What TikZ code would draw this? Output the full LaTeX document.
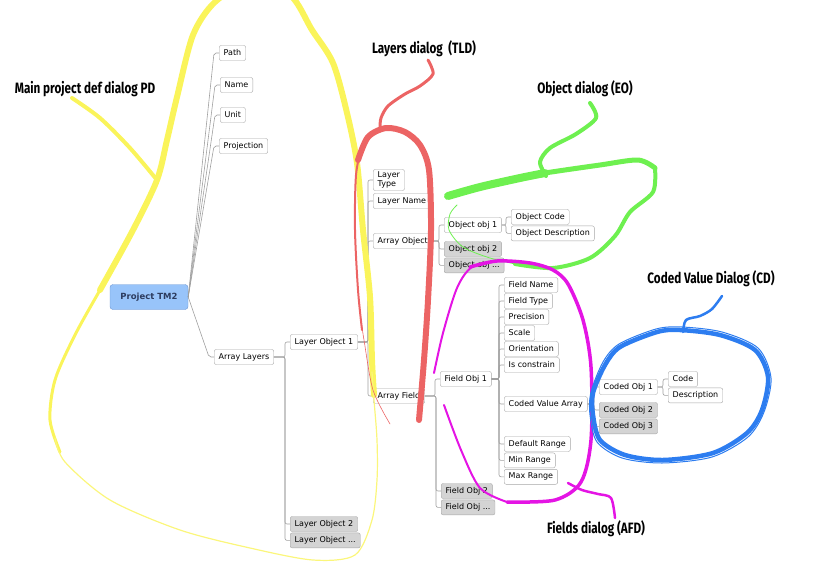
\documentclass[tikz,border=0pt]{standalone}
\usepackage{fontspec}
\setmainfont{DejaVu Sans}
\newfontfamily\handfont[FakeStretch=0.78]{Fira Sans}
\usetikzlibrary{positioning}
\definecolor{hlyellow}{RGB}{250,244,90}
\definecolor{hlred}{RGB}{236,100,100}
\definecolor{hlgreen}{RGB}{110,240,80}
\definecolor{hlmagenta}{RGB}{228,20,228}
\definecolor{hlblue}{RGB}{45,125,240}
\definecolor{foldgray}{RGB}{212,212,212}
\definecolor{tmfill}{RGB}{152,196,250}
\definecolor{tmborder}{RGB}{110,150,210}
\definecolor{tmtext}{RGB}{45,60,95}

\begin{document}
\begin{tikzpicture}[x=1pt, y=-1pt,
		topic/.style={rectangle, rounded corners=2pt, draw=gray!70, fill=white, font=\fontsize{8}{9.5}\selectfont, inner xsep=4.5pt, inner ysep=0pt, text height=6pt, text depth=2pt, minimum height=15pt},
		folded/.style={topic, fill=foldgray},
		central/.style={rectangle, rounded corners=3pt, draw=tmborder, fill=tmfill, text=tmtext, font=\fontsize{8.5}{10}\selectfont\bfseries, minimum width=78pt, minimum height=25pt},
		branch/.style={draw=gray!75, line width=0.6pt, rounded corners=2pt},
		remark/.style={font=\handfont\bfseries\fontsize{15}{17}\selectfont},
		marker/.style={line cap=round, line join=round}
	]
		\useasboundingbox (0,0) rectangle (818,570);
		\clip (0,0) rectangle (818,570);

		\node[central] (tm2) at (149,297) {Project TM2};
		\node[topic, anchor=west] (path) at (219,53) {Path};
		\node[topic, anchor=west] (name) at (220,85) {Name};
		\node[topic, anchor=west] (unit) at (220,115) {Unit};
		\node[topic, anchor=west] (proj) at (219,146) {Projection};
		\node[topic, anchor=west] (arrlay) at (214,357) {Array Layers};

		\node[topic, anchor=west] (lay1) at (290,342) {Layer Object 1};
		\node[folded, anchor=west] (lay2) at (290,524) {Layer Object 2};
		\node[folded, below=1pt of lay2.south west, anchor=north west] (laymore) {Layer Object ...};

		\node[topic, anchor=west, align=left, text height={}, text depth={}, inner ysep=2pt] (ltype) at (373,180) {Layer\\Type};
		\node[topic, anchor=west] (lname) at (373,201) {Layer Name};
		\node[topic, anchor=west] (arrobj) at (373,241) {Array Object};
		\node[topic, anchor=west] (arrfld) at (373,396) {Array Field};

		\node[topic, anchor=west] (obj1) at (444,225) {Object obj 1};
		\node[folded, anchor=west] (obj2) at (444,249) {Object obj 2};
		\node[folded, below=1pt of obj2.south west, anchor=north west] (objmore) {Object obj ...};
		\node[topic, anchor=west] (ocode) at (511,217) {Object Code};
		\node[topic, below=1pt of ocode.south west, anchor=north west] (odesc) {Object Description};

		\node[topic, anchor=west] (fld1) at (440,379) {Field Obj 1};
		\node[folded, anchor=west] (fld2) at (441,491) {Field Obj 2};
		\node[folded, below=1pt of fld2.south west, anchor=north west] (fldmore) {Field Obj ...};

		\node[topic, anchor=west] (fname) at (504,285) {Field Name};
		\node[topic, below=0.6pt of fname.south west, anchor=north west] (ftype) {Field Type};
		\node[topic, below=0.6pt of ftype.south west, anchor=north west] (fprec) {Precision};
		\node[topic, below=0.6pt of fprec.south west, anchor=north west] (fscale) {Scale};
		\node[topic, below=0.6pt of fscale.south west, anchor=north west] (forient) {Orientation};
		\node[topic, below=0.6pt of forient.south west, anchor=north west] (fconstr) {Is constrain};
		\node[topic, anchor=west] (cva) at (504,404) {Coded Value Array};
		\node[topic, anchor=west] (fdef) at (504,444) {Default Range};
		\node[topic, below=1pt of fdef.south west, anchor=north west] (fmin) {Min Range};
		\node[topic, below=1pt of fmin.south west, anchor=north west] (fmax) {Max Range};

		\node[topic, anchor=west] (cobj1) at (599,387) {Coded Obj 1};
		\node[folded, anchor=west] (cobj2) at (599,410) {Coded Obj 2};
		\node[folded, below=1pt of cobj2.south west, anchor=north west] (cobj3) {Coded Obj 3};
		\node[topic, anchor=west] (ccode) at (668,379) {Code};
		\node[topic, below=1pt of ccode.south west, anchor=north west] (cdesc) {Description};

		\foreach \c in {path,name,unit,proj,arrlay}
			\draw[branch] (tm2.east) -- ([xshift=-5pt]\c.west) -- (\c.west);
		\foreach \c in {lay1,lay2,laymore}
			\draw[branch] (arrlay.east) -| ([xshift=-5pt]\c.west) -- (\c.west);
		\foreach \c in {ltype,lname,arrobj,arrfld}
			\draw[branch] (lay1.east) -| ([xshift=-5pt]\c.west) -- (\c.west);
		\foreach \c in {obj1,obj2,objmore}
			\draw[branch] (arrobj.east) -| ([xshift=-5pt]\c.west) -- (\c.west);
		\foreach \c in {ocode,odesc}
			\draw[branch] (obj1.east) -| ([xshift=-5pt]\c.west) -- (\c.west);
		\foreach \c in {fld1,fld2,fldmore}
			\draw[branch] (arrfld.east) -| ([xshift=-5pt]\c.west) -- (\c.west);
		\foreach \c in {fname,ftype,fprec,fscale,forient,fconstr,cva,fdef,fmin,fmax}
			\draw[branch] (fld1.east) -| ([xshift=-5pt]\c.west) -- (\c.west);
		\foreach \c in {cobj1,cobj2,cobj3}
			\draw[branch] (cva.east) -| ([xshift=-5pt]\c.west) -- (\c.west);
		\foreach \c in {ccode,cdesc}
			\draw[branch] (cobj1.east) -| ([xshift=-5pt]\c.west) -- (\c.west);

		\draw[marker, hlyellow, line width=4pt] plot[smooth] coordinates {(72,98) (100,118) (130,148) (157,180)};
		\draw[marker, hlyellow, line width=6pt] plot[smooth] coordinates {(100,290) (133,230) (157,180) (167,140) (177,97) (193,35) (215,2) (250,-18) (290,-5) (312,30) (333,63) (347,113) (357,163) (363,230) (370,297) (372,360) (374,395)};
		\draw[marker, hlyellow, line width=3pt] plot[smooth] coordinates {(120,255) (100,290) (75,335) (55,380) (50,420) (60,452)};
		\draw[marker, hlyellow!80, line width=1.2pt] plot[smooth] coordinates {(55,438) (65,462) (110,500) (180,530) (250,548) (313,560) (355,555) (372,520) (377,480) (377,440) (374,400) (372,372)};

		\draw[marker, hlred, line width=3pt] plot[smooth] coordinates {(428,60) (433,74) (420,86) (405,94) (388,106) (381,118) (380,128)};
		\draw[marker, hlred, line width=6pt] plot[smooth] coordinates {(358,160) (368,137) (386,128) (405,132) (420,145) (429,170) (431,230) (428,300) (424,360) (419,420)};
		\draw[marker, hlred, line width=2pt] plot[smooth] coordinates {(362,145) (356,175) (355,230) (358,290) (362,330)};
		\draw[marker, hlred, line width=0.6pt] plot[smooth] coordinates {(361,320) (364,340) (373,390) (390,424)};

		\draw[marker, hlgreen, line width=4pt] plot[smooth] coordinates {(590,103) (596,118) (576,134) (550,148) (540,162) (546,176)};
		\draw[marker, hlgreen, line width=8pt] plot[smooth] coordinates {(448,196) (480,187) (520,178) (545,173)};
		\draw[marker, hlgreen, line width=5pt] plot[smooth] coordinates {(520,178) (545,173) (600,165) (638,160) (655,168)};
		\draw[marker, hlgreen, line width=4pt] plot[smooth] coordinates {(655,168) (653,192) (630,212) (615,236) (590,258) (553,268) (515,264)};
		\draw[marker, hlgreen, line width=0.8pt] plot[smooth] coordinates {(520,265) (490,258) (463,247) (449,230) (450,214) (457,205)};

		\draw[marker, hlmagenta, line width=3.5pt] plot[smooth] coordinates {(470,267) (497,261) (530,263) (553,270) (568,284) (583,320) (591,367) (591,440) (581,482) (555,500) (507,502)};
		\draw[marker, hlmagenta, line width=2pt] plot[smooth] coordinates {(507,502) (480,488) (461,450) (444,405)};
		\draw[marker, hlmagenta, line width=2pt] plot[smooth] coordinates {(434,373) (443,333) (457,288) (472,267) (497,261)};
		\draw[marker, hlmagenta, line width=2.5pt] plot[smooth] coordinates {(568,483) (582,490) (598,494) (611,498) (615,518)};

		\draw[marker, hlblue, line width=4.5pt] plot[smooth cycle] coordinates {(680,330) (720,335) (755,350) (768,377) (762,410) (747,433) (713,453) (663,460) (625,455) (600,440) (593,415) (593,393) (605,365) (620,347) (657,332)};
		\draw[marker, hlblue, line width=1pt] plot[smooth cycle] coordinates {(682,327) (722,332) (758,348) (771,378) (764,412) (748,437) (712,457) (662,463) (622,458) (597,442) (590,415) (591,392) (603,362) (619,344) (656,329)};
		\draw[marker, hlblue, line width=2.5pt] plot[smooth] coordinates {(683,332) (686,320) (700,316) (712,309) (722,296)};

		\node[remark] (pdlbl) at (85,89) {Main project def dialog PD};
		\node[remark] (tldlbl) at (424,49) {Layers dialog~ (TLD)};
		\node[remark] (eolbl) at (585,89) {Object dialog (EO)};
		\node[remark] (cdlbl) at (711,279) {Coded Value Dialog (CD)};
		\node[remark] (afdlbl) at (596,529) {Fields dialog (AFD)};
	\end{tikzpicture}
\end{document}
